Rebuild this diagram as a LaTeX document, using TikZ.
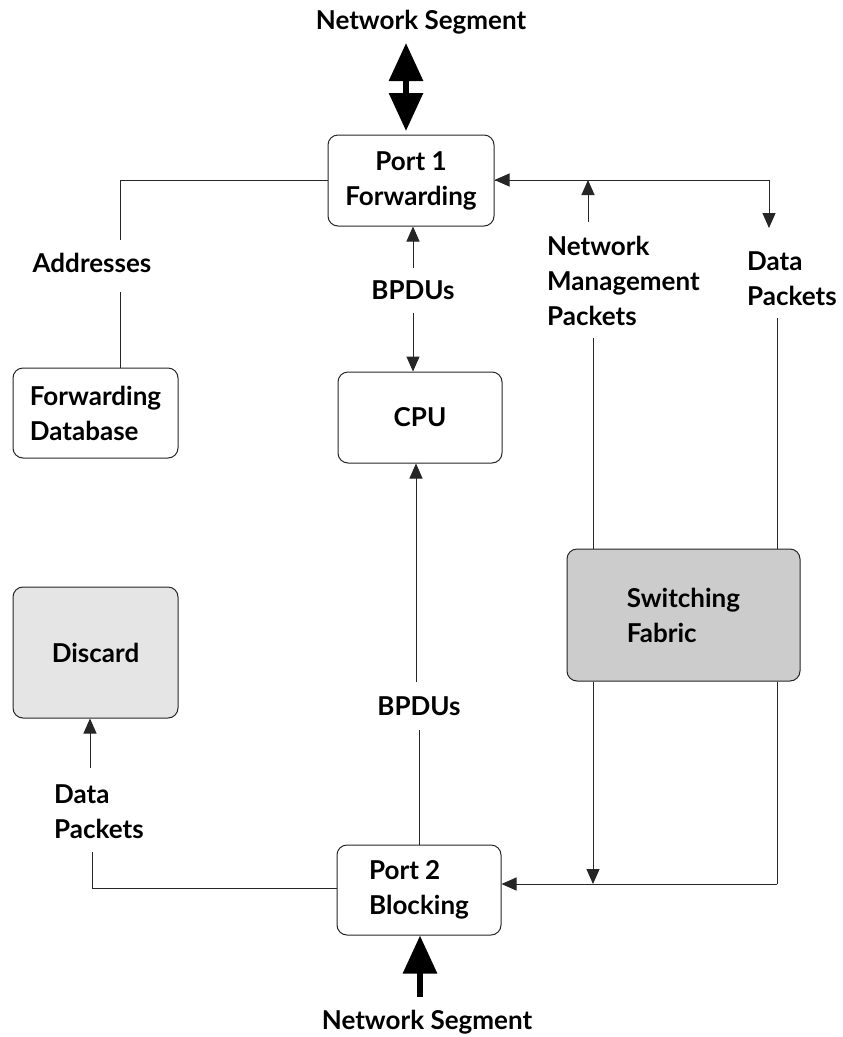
\documentclass[tikz,border=0pt]{standalone}
\usepackage{fontspec}
\setmainfont{Lato}
\usetikzlibrary{arrows.meta}
\begin{document}
\begin{tikzpicture}[x=1pt,y=-1pt,
  txt/.style={font=\bfseries\fontsize{26}{35}\selectfont, inner sep=0pt},
  box/.style={draw=black!85, line width=1pt, rounded corners=10pt, txt},
  conn/.style={draw=black!85, line width=1pt},
  arr/.style={conn, -{Triangle[length=15pt,width=13pt]}},
  big/.style={line width=6pt, -{Triangle[length=38pt,width=33pt]}}]
\useasboundingbox[fill=white] (0,0) rectangle (843,1037);
% boxes
\node[box, minimum width=166pt, minimum height=91pt, align=center] (p1) at (411,180.5) {Port 1\\Forwarding};
\node[box, minimum width=165pt, minimum height=90pt, align=left] (fdb) at (95.5,413) {Forwarding\\Database};
\node[box, minimum width=164pt, minimum height=91pt] (cpu) at (420,417.5) {CPU};
\node[box, fill=black!20, minimum width=233pt, minimum height=132pt, align=left] (sf) at (683.5,615) {Switching\\Fabric};
\node[box, fill=black!10, minimum width=165pt, minimum height=131pt] (dis) at (95.5,652.5) {Discard};
\node[box, minimum width=164pt, minimum height=90pt, align=left] (p2) at (419,890) {Port 2\\Blocking};
% labels
\node[txt] (ns1) at (421,22) {Network Segment};
\node[txt] (ns2) at (427,1022) {Network Segment};
\node[txt] (addr) at (92,263) {Addresses};
\node[txt] (bp1) at (413,290) {BPDUs};
\node[txt] (bp2) at (419,706) {BPDUs};
\node[txt, align=left, anchor=west] (nmp) at (547,281) {Network\\Management\\Packets};
\node[txt, align=left, anchor=west] (dp1) at (747,279) {Data\\Packets};
\node[txt, align=left, anchor=west] (dp2) at (54,812) {Data\\Packets};
% coordinates
\coordinate (a1) at (120,240);
\coordinate (a2) at (120,292);
\coordinate (r2) at (769,228);
\coordinate (n1) at (588,222);
\coordinate (n2) at (593,338);
\coordinate (d2) at (777,318);
\coordinate (b1) at (413,268);
\coordinate (b2) at (413,313);
\coordinate (b3) at (416,682);
\coordinate (b4) at (419,730);
\coordinate (l1) at (90,768);
\coordinate (l2) at (92,852);
\coordinate (s1) at (777,884);
\coordinate (s2) at (593,884);
\coordinate (t1) at (406,43);
\coordinate (t2) at (406,131);
\coordinate (u1) at (420,997);
% connectors
\draw[conn] (p1.west |- 0,180) -| (a1);
\draw[conn] (a2) -- (a2 |- fdb.north);
\draw[arr] (r2 |- 0,180) -- (p1.east |- 0,180);
\draw[arr] (p1.east |- 0,180) -| (r2);
\draw[arr] (n1) -- (n1 |- 0,180);
\draw[conn] (n2) -- (n2 |- sf.north);
\draw[conn] (d2) -- (d2 |- sf.north);
\draw[arr] (b1) -- (b1 |- p1.south);
\draw[arr] (b2) -- (b2 |- cpu.north);
\draw[arr] (b3) -- (b3 |- cpu.south);
\draw[conn] (b4) -- (b4 |- p2.north);
\draw[arr] (l1) -- (l1 |- dis.south);
\draw[conn] (l2) |- (p2.west |- 0,888);
\draw[conn] (d2 |- sf.south) -- (s1);
\draw[arr] (s1) -- (p2.east |- s1);
\draw[arr] (s2 |- sf.south) -- (s2);
\draw[big, {Triangle[length=38pt,width=33pt]}-{Triangle[length=38pt,width=33pt]}] (t1) -- (t2);
\draw[big] (u1) -- (u1 |- p2.south);
\end{tikzpicture}
\end{document}
